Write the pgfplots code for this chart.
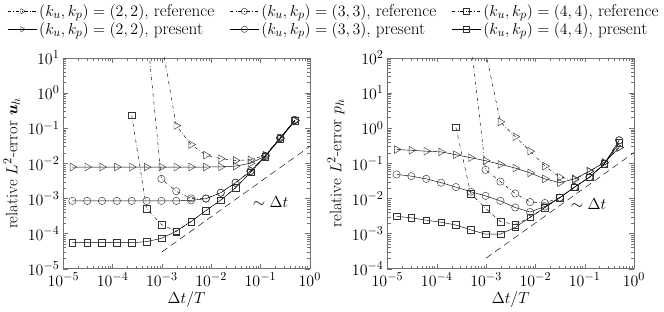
\documentclass[border=0pt]{standalone}
\usepackage{pgfplots}
\pgfplotsset{compat=1.18}
\usepackage{bm}
\begin{document}
\begin{tikzpicture}[font=\fontsize{15}{18}\selectfont]
\pgfplotsset{
  every axis/.append style={
    scale only axis, width=222bp, height=190bp,
    xmode=log, ymode=log, xmin=1e-5, xmax=1,
    axis line style={black!55}, tick style={black!55},
    xtick={1e-5,1e-4,1e-3,1e-2,1e-1,1},
    tick label style={font=\fontsize{15}{18}\selectfont},
    label style={font=\fontsize{15}{18}\selectfont},
    xlabel={$\Delta t/T$},
    xlabel style={yshift=2bp},
  },
  refstyle/.style={black, thin, dashdotted},
  presstyle/.style={black, thin},
  tri/.style={mark=triangle, mark size=4bp, mark options={solid, rotate=-90, black!80}},
  cir/.style={mark=o, mark size=3.3bp, mark options={solid, black!80}},
  squ/.style={mark=square, mark size=3bp, mark options={solid, black!80}},
}
\begin{axis}[
  ymin=1e-5, ymax=10,
  ytick={1e-5,1e-4,1e-3,1e-2,1e-1,1,10},
  ylabel={relative $L^2$-error $\bm{u}_h$},
  legend columns=3,
  legend cell align=left,
  legend image code/.code={\draw[mark repeat=2, mark phase=2, mark size=2.8bp, #1] plot coordinates {(0bp,0bp)(13bp,0bp)(26bp,0bp)};},
  legend style={draw=none, fill=none, at={(1.099,1.275)}, anchor=north,
    font=\fontsize{15.5}{18}\selectfont, /tikz/every even column/.append style={column sep=12bp}},
]
% reference
\addplot[refstyle, tri] coordinates {
(9.765625e-4,30)(1.953125e-3,0.118)(3.90625e-3,0.034)(7.8125e-3,0.017)(1.5625e-2,0.0135)
(3.125e-2,0.012)(6.25e-2,0.0125)(0.125,0.017)(0.25,0.053)(0.5,0.165)};
\addlegendentry{$(k_u,k_p)=(2,2)$, reference}
\addplot[refstyle, cir] coordinates {
(4.8828125e-4,70)(9.765625e-4,3.6e-3)(1.953125e-3,1.6e-3)(3.90625e-3,1.0e-3)(7.8125e-3,1.0e-3)
(1.5625e-2,1.45e-3)(3.125e-2,2.8e-3)(6.25e-2,6.0e-3)(0.125,1.6e-2)(0.25,5.2e-2)(0.5,0.17)};
\addlegendentry{$(k_u,k_p)=(3,3)$, reference}
\addplot[refstyle, squ] coordinates {
(2.44140625e-4,0.23)(4.8828125e-4,5.2e-4)(9.765625e-4,1.8e-4)(1.953125e-3,1.15e-4)(3.90625e-3,2.2e-4)
(7.8125e-3,4.5e-4)(1.5625e-2,8.9e-4)(3.125e-2,2.0e-3)(6.25e-2,5.5e-3)(0.125,1.55e-2)(0.25,5.0e-2)(0.5,0.16)};
\addlegendentry{$(k_u,k_p)=(4,4)$, reference}
% present
\addplot[presstyle, tri] coordinates {
(1.52587890625e-5,7.8e-3)(3.0517578125e-5,7.8e-3)(6.103515625e-5,7.8e-3)(1.220703125e-4,7.8e-3)
(2.44140625e-4,7.8e-3)(4.8828125e-4,7.8e-3)(9.765625e-4,7.8e-3)(1.953125e-3,7.8e-3)
(3.90625e-3,7.8e-3)(7.8125e-3,7.8e-3)(1.5625e-2,7.9e-3)(3.125e-2,8.3e-3)(6.25e-2,1.0e-2)
(0.125,1.6e-2)(0.25,5.0e-2)(0.5,0.16)};
\addlegendentry{$(k_u,k_p)=(2,2)$, present}
\addplot[presstyle, cir] coordinates {
(1.52587890625e-5,8.5e-4)(3.0517578125e-5,8.5e-4)(6.103515625e-5,8.5e-4)(1.220703125e-4,8.5e-4)
(2.44140625e-4,8.5e-4)(4.8828125e-4,8.5e-4)(9.765625e-4,8.5e-4)(1.953125e-3,8.5e-4)
(3.90625e-3,8.8e-4)(7.8125e-3,9.8e-4)(1.5625e-2,1.45e-3)(3.125e-2,2.8e-3)(6.25e-2,5.9e-3)
(0.125,1.6e-2)(0.25,5.2e-2)(0.5,0.17)};
\addlegendentry{$(k_u,k_p)=(3,3)$, present}
\addplot[presstyle, squ] coordinates {
(1.52587890625e-5,5.5e-5)(3.0517578125e-5,5.5e-5)(6.103515625e-5,5.5e-5)(1.220703125e-4,5.5e-5)
(2.44140625e-4,5.5e-5)(4.8828125e-4,5.9e-5)(9.765625e-4,7.3e-5)(1.953125e-3,1.17e-4)
(3.90625e-3,2.2e-4)(7.8125e-3,4.5e-4)(1.5625e-2,8.9e-4)(3.125e-2,2.0e-3)(6.25e-2,5.5e-3)
(0.125,1.55e-2)(0.25,5.0e-2)(0.5,0.16)};
\addlegendentry{$(k_u,k_p)=(4,4)$, present}
\addplot[black, thin, dash pattern=on 6bp off 4bp, forget plot] coordinates {(1e-3,3e-5)(1,3e-2)};
\node at (axis cs:0.16,8e-4) {$\sim\Delta t$};
\end{axis}

\begin{axis}[
  xshift=292bp,
  ymin=1e-4, ymax=100,
  ytick={1e-4,1e-3,1e-2,1e-1,1,10,100},
  ylabel={relative $L^2$-error $p_h$},
]
\addplot[refstyle, tri] coordinates {
(9.765625e-4,150)(1.953125e-3,1.5)(3.90625e-3,0.57)(7.8125e-3,0.22)(1.5625e-2,0.083)
(3.125e-2,0.040)(6.25e-2,0.034)(0.125,0.059)(0.25,0.105)(0.5,0.28)};
\addplot[refstyle, cir] coordinates {
(4.8828125e-4,300)(9.765625e-4,0.065)(1.953125e-3,0.030)(3.90625e-3,0.0138)(7.8125e-3,0.0079)
(1.5625e-2,0.0074)(3.125e-2,0.0105)(6.25e-2,0.021)(0.125,0.040)(0.25,0.095)(0.5,0.45)};
\addplot[refstyle, squ] coordinates {
(2.44140625e-4,1.05)(4.8828125e-4,0.0138)(9.765625e-4,0.0052)(1.953125e-3,0.0022)(3.90625e-3,0.0018)
(7.8125e-3,0.0029)(1.5625e-2,0.0055)(3.125e-2,0.0105)(6.25e-2,0.021)(0.125,0.040)(0.25,0.095)(0.5,0.38)};
\addplot[presstyle, tri] coordinates {
(1.52587890625e-5,0.245)(3.0517578125e-5,0.234)(6.103515625e-5,0.22)(1.220703125e-4,0.21)
(2.44140625e-4,0.175)(4.8828125e-4,0.144)(9.765625e-4,0.118)(1.953125e-3,0.093)
(3.90625e-3,0.073)(7.8125e-3,0.053)(1.5625e-2,0.036)(3.125e-2,0.028)(6.25e-2,0.036)
(0.125,0.059)(0.25,0.105)(0.5,0.28)};
\addplot[presstyle, cir] coordinates {
(1.52587890625e-5,0.048)(3.0517578125e-5,0.043)(6.103515625e-5,0.036)(1.220703125e-4,0.028)
(2.44140625e-4,0.021)(4.8828125e-4,0.0155)(9.765625e-4,0.0118)(1.953125e-3,0.0085)
(3.90625e-3,0.0055)(7.8125e-3,0.0041)(1.5625e-2,0.0059)(3.125e-2,0.0105)(6.25e-2,0.021)
(0.125,0.040)(0.25,0.095)(0.5,0.45)};
\addplot[presstyle, squ] coordinates {
(1.52587890625e-5,3.1e-3)(3.0517578125e-5,2.8e-3)(6.103515625e-5,2.4e-3)(1.220703125e-4,2.1e-3)
(2.44140625e-4,1.75e-3)(4.8828125e-4,1.28e-3)(9.765625e-4,9.6e-4)(1.953125e-3,9.6e-4)
(3.90625e-3,1.5e-3)(7.8125e-3,2.9e-3)(1.5625e-2,5.5e-3)(3.125e-2,0.0105)(6.25e-2,0.021)
(0.125,0.040)(0.25,0.095)(0.5,0.38)};
\addplot[black, thin, dash pattern=on 6bp off 4bp] coordinates {(1e-3,2e-4)(1,0.2)};
\node at (axis cs:0.12,7e-3) {$\sim\Delta t$};
\end{axis}
\end{tikzpicture}
\end{document}
